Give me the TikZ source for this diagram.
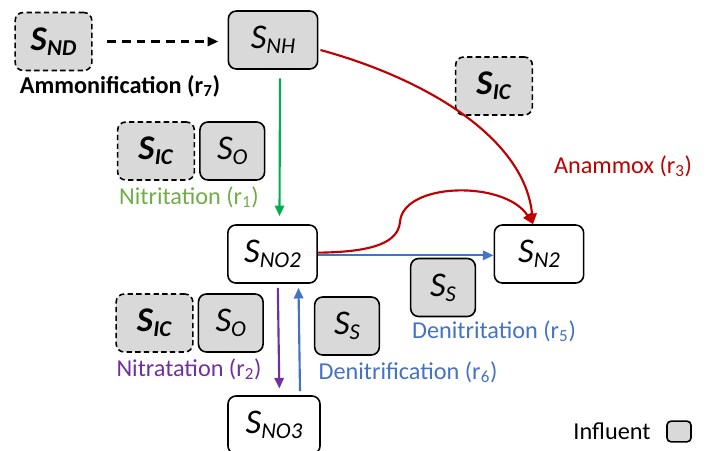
\documentclass[tikz,border=0pt]{standalone}
\usepackage{fontspec}
\setmainfont{Carlito}
\usetikzlibrary{arrows.meta, positioning}
\usepackage{xcolor}
\definecolor{boxgray}{HTML}{D9D9D9}
\definecolor{nitgreen}{HTML}{00B050}
\definecolor{nitlabel}{HTML}{70AD47}
\definecolor{anared}{HTML}{C00000}
\definecolor{denblue}{HTML}{4472C4}
\definecolor{natpurple}{HTML}{7030A0}

% italic species symbol with a lowered italic index
\newcommand{\species}[2]{\textit{#1}\raisebox{-0.32ex}{\fontsize{17}{17}\selectfont\textit{#2}}}

\begin{document}
\begin{tikzpicture}[
    x=0.75pt, y=-0.75pt,
    box/.style={draw, line width=1.2pt, rounded corners=6pt, minimum width=67pt, minimum height=43.5pt, inner sep=0pt, font=\fontsize{26}{28}\selectfont},
    state/.style={box, fill=white},
    infl/.style={box, fill=boxgray, minimum width=48.5pt},
    extin/.style={box, fill=boxgray, dash pattern=on 4pt off 2.5pt, minimum width=57.5pt, font=\fontsize{26}{28}\selectfont\bfseries},
    lbl/.style={font=\fontsize{18.2}{20}\selectfont, inner sep=0pt},
    arr/.style={-{Triangle[length=8pt,width=7pt]}, line width=1.6pt},
]
\useasboundingbox (0,0) rectangle (706,450);

% Nitrogen states
\node[state, fill=boxgray] (snh) at (273,40) {\species{S}{NH}};
\node[state] (sno2) at (272.5,254) {\species{S}{NO2}};
\node[state] (sn2) at (539,254) {\species{S}{N2}};
\node[state, minimum width=69pt] (sno3) at (274,425) {\species{S}{NO3}};

% Influent species
\node[extin] (snd) at (53.5,41.5) {\species{S}{ND}};
\node[extin] (sictop) at (494,86) {\species{S}{IC}};
\node[extin] (sicone) at (156,151) {\species{S}{IC}};
\node[infl, right=3pt of sicone] (soone) {\species{S}{O}};
\node[extin] (sictwo) at (154.5,323) {\species{S}{IC}};
\node[infl, right=3pt of sictwo] (sotwo) {\species{S}{O}};
\node[infl] (ssone) at (443,287.5) {\species{S}{S}};
\node[infl] (sstwo) at (347,326) {\species{S}{S}};

% Arrows
\draw[arr, dash pattern=on 6.5pt off 4.5pt] ([xshift=11pt]snd.east) -- ([xshift=-7pt]snh.west |- snd.east);
\draw[arr, nitgreen] ([xshift=5.25pt, yshift=-6.5pt]snh.south) -- ([xshift=5.25pt, yshift=6pt]sno2.north);
\draw[arr, anared] ([xshift=1.5pt, yshift=-7.5pt]snh.east) .. controls (430,80) and (525,140) .. ([xshift=-4.5pt]sn2.north);
\draw[arr, anared] ([yshift=1pt]sno2.east) .. controls (375,252) and (398,242) .. (400,222)
    .. controls (403,182) and (505,180) .. ([xshift=-4.5pt]sn2.north);
\draw[arr, denblue] ([yshift=-1pt]sno2.east) -- ([yshift=-1pt]sn2.west);
\draw[arr, natpurple] ([xshift=4pt, yshift=-3pt]sno2.south) -- ([xshift=4pt, yshift=5pt]sno3.north);
\draw[arr, denblue] ([xshift=19.5pt, yshift=3pt]sno3.north) -- ([xshift=19.5pt, yshift=-3pt]sno2.south);

% Labels
\node[lbl, font=\fontsize{18.2}{20}\selectfont\bfseries] (ammlbl) at (120,86) {Ammonification (r\textsubscript{7})};
\node[lbl, anared] (analbl) at (623,166) {Anammox (r\textsubscript{3})};
\node[lbl, nitlabel] (nitlbl) at (189,197) {Nitritation (r\textsubscript{1})};
\node[lbl, natpurple] (natlbl) at (189,369) {Nitratation (r\textsubscript{2})};
\node[lbl, denblue] (dntlbl) at (494,331) {Denitritation (r\textsubscript{5})};
\node[lbl, denblue] (dnflbl) at (408,372) {Denitrification (r\textsubscript{6})};

% Legend
\node[lbl] (legtxt) at (612,431) {Influent};
\node[draw, line width=1.2pt, fill=boxgray, rounded corners=3pt, minimum width=18pt, minimum height=15.5pt, inner sep=0pt] (legbox) at (679,431.5) {};

\end{tikzpicture}
\end{document}
